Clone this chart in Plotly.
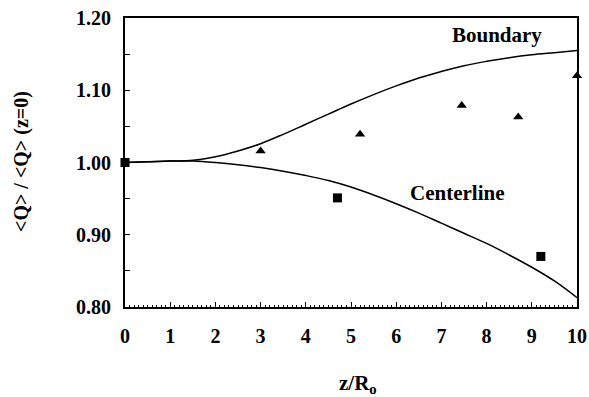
import plotly.graph_objects as go

# Curves (model)
z_curve = [0, 0.5, 1, 1.5, 2, 2.5, 3, 3.5, 4, 4.5, 5, 5.5, 6, 6.5, 7, 7.5, 8, 8.5, 9, 9.5, 10]
boundary_curve = [1.000, 1.001, 1.002, 1.003, 1.008, 1.016, 1.026, 1.039, 1.053, 1.067, 1.081,
                  1.094, 1.106, 1.117, 1.126, 1.134, 1.140, 1.145, 1.149, 1.152, 1.155]
centerline_curve = [1.000, 1.001, 1.002, 1.002, 1.000, 0.997, 0.993, 0.988, 0.982, 0.975, 0.966,
                    0.955, 0.943, 0.930, 0.916, 0.902, 0.888, 0.872, 0.855, 0.836, 0.813]

# Measured points
z_boundary_pts = [3.0, 5.2, 7.45, 8.7, 10.0]
q_boundary_pts = [1.016, 1.039, 1.079, 1.063, 1.120]
z_center_pts = [0.0, 4.7, 9.2]
q_center_pts = [1.000, 0.951, 0.870]

# Axis ticks
y_tickvals = [0.80, 0.90, 1.00, 1.10, 1.20]
y_ticktext = ["0.80", "0.90", "1.00", "1.10", "1.20"]
x_tickvals = list(range(0, 11))
x_ticktext = [str(v) for v in x_tickvals]

FONT = "Liberation Serif"

fig = go.Figure()
fig.add_trace(go.Scatter(x=z_curve, y=boundary_curve, mode="lines",
                         line=dict(color="black", width=1.5, shape="spline"), showlegend=False))
fig.add_trace(go.Scatter(x=z_curve, y=centerline_curve, mode="lines",
                         line=dict(color="black", width=1.5, shape="spline"), showlegend=False))
fig.add_trace(go.Scatter(x=z_boundary_pts, y=q_boundary_pts, mode="markers",
                         marker=dict(symbol="triangle-up", size=9, color="black"),
                         cliponaxis=False, showlegend=False))
fig.add_trace(go.Scatter(x=z_center_pts, y=q_center_pts, mode="markers",
                         marker=dict(symbol="square", size=9, color="black"),
                         cliponaxis=False, showlegend=False))

# plot area in pixels: x 125..577, y 18..307
PL, PR, PT, PB = 125, 577, 18, 307
def px(xp):
    return (xp - PL) / (PR - PL)
def py(yp):
    return (PB - yp) / (PB - PT)

fig.update_layout(
    width=589, height=397,
    margin=dict(l=PL, r=589 - PR, t=PT, b=397 - PB),
    paper_bgcolor="white", plot_bgcolor="white",
    font=dict(family=FONT, size=20, color="black"),
    xaxis=dict(range=[0, 10], tickvals=x_tickvals, ticktext=x_ticktext,
               ticks="inside", ticklen=5, tickwidth=1, tickcolor="black",
               minor=dict(dtick=0.1, ticks="inside", ticklen=2, tickwidth=1, tickcolor="black"),
               showline=True, linecolor="black", linewidth=2, mirror=True,
               showgrid=False, zeroline=False, automargin=False,
               tickfont=dict(family=FONT, size=20, color="black", weight="bold"),
               ticklabelstandoff=10),
    yaxis=dict(range=[0.80, 1.20], tickvals=y_tickvals, ticktext=y_ticktext,
               ticks="inside", ticklen=5, tickwidth=1, tickcolor="black",
               minor=dict(dtick=0.05, tick0=0.8, ticks="inside", ticklen=5, tickwidth=1, tickcolor="black"),
               showline=True, linecolor="black", linewidth=2, mirror=True,
               showgrid=False, zeroline=False, automargin=False,
               tickfont=dict(family=FONT, size=20, color="black", weight="bold"),
               ticklabelstandoff=8),
    annotations=[
        dict(x=8.24, y=1.1765, xref="x", yref="y", text="<b>Boundary</b>", showarrow=False,
             font=dict(family=FONT, size=21, color="black")),
        dict(x=7.35, y=0.958, xref="x", yref="y", text="<b>Centerline</b>", showarrow=False,
             font=dict(family=FONT, size=21, color="black")),
        dict(x=px(358), y=py(384), xref="paper", yref="paper",
             xanchor="center", yanchor="middle",
             text="<b>z/R<sub>o</sub></b>", showarrow=False,
             font=dict(family=FONT, size=21, color="black")),
        dict(x=px(21), y=py(162), xref="paper", yref="paper",
             xanchor="center", yanchor="middle",
             text="<b>&lt;Q&gt; / &lt;Q&gt; (z=0)</b>", showarrow=False, textangle=-90,
             font=dict(family=FONT, size=20, color="black")),
    ],
)

fig.write_html("out.html")
